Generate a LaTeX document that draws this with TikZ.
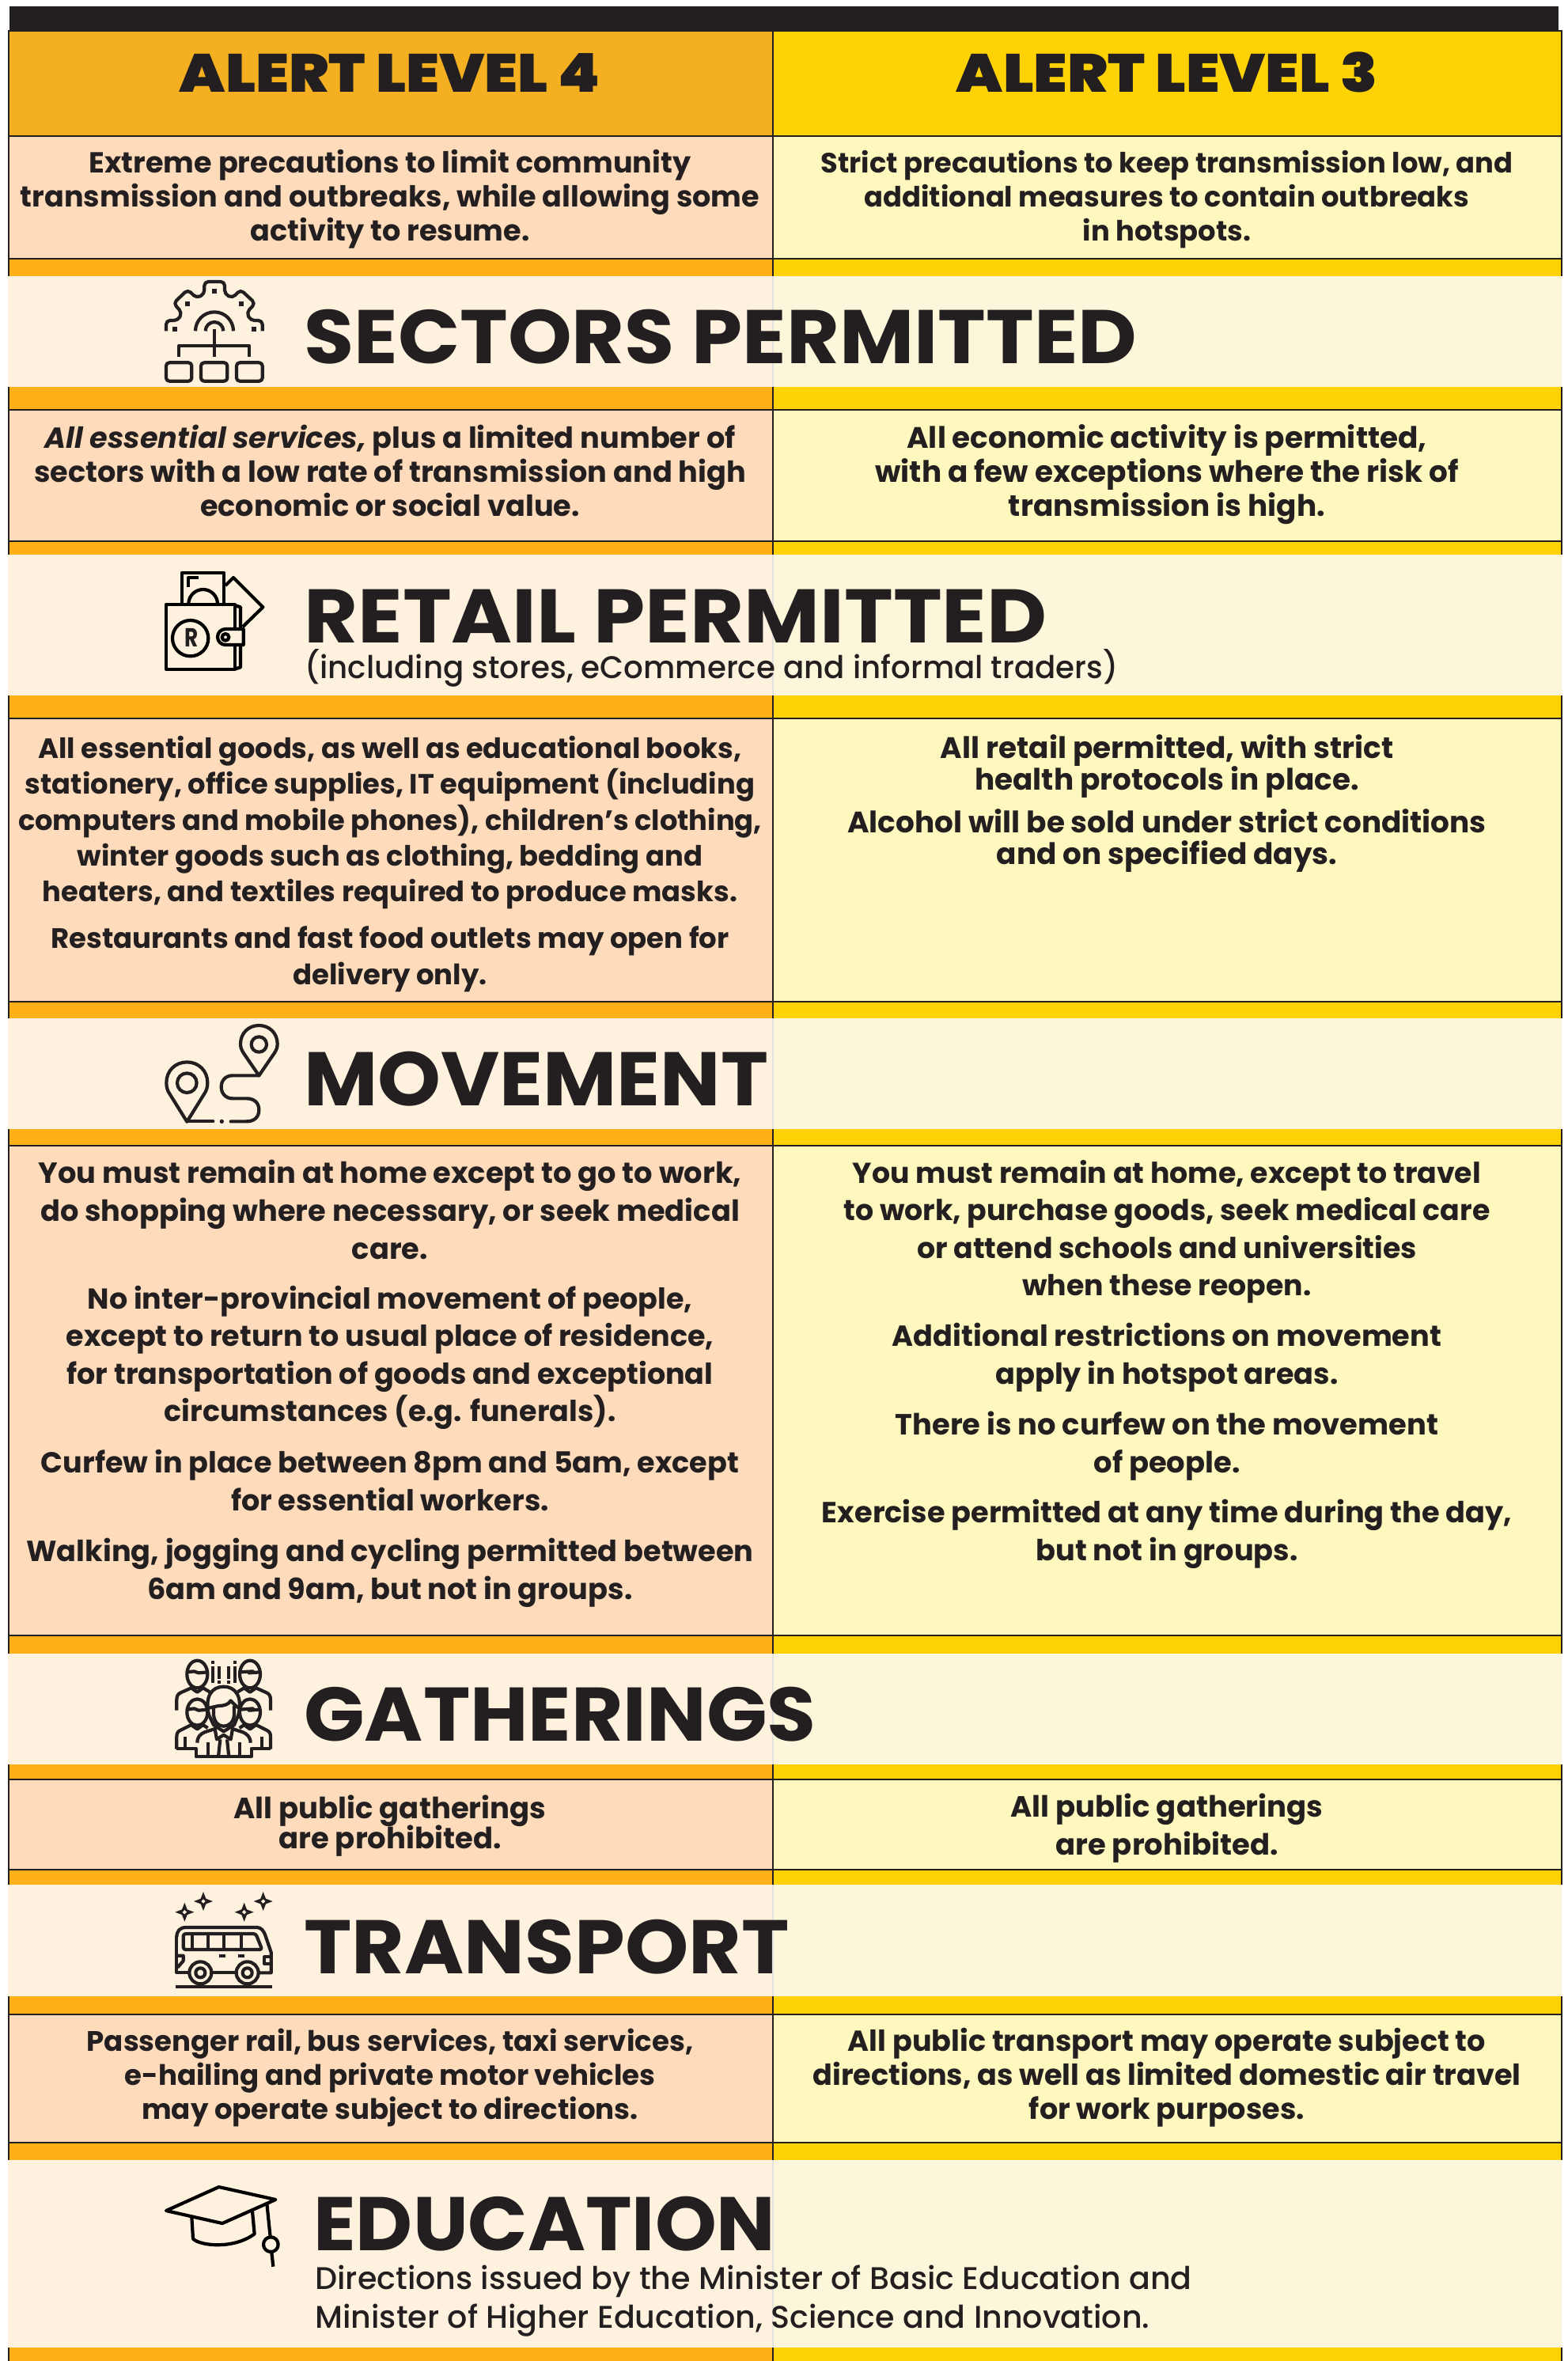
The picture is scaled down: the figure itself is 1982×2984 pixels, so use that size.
\documentclass[tikz,border=0pt]{standalone}
\usepackage{fontspec}
\usepackage{graphicx}
\setmainfont{Poppins}
\newfontfamily\bodyfont{Poppins Bold}
\newfontfamily\bodyital{Poppins Bold Italic}
\newfontfamily\headfont{Poppins Black}
\newfontfamily\sectfont{Poppins Bold}
\newfontfamily\subfont{Poppins Medium}
\lineskiplimit=-100pt
\normallineskiplimit=-100pt
\definecolor{ink}{HTML}{231F20}
\definecolor{headL}{HTML}{F4B021}
\definecolor{headR}{HTML}{FFD204}
\definecolor{cellL}{HTML}{FEDCBB}
\definecolor{cellR}{HTML}{FEF8BE}
\definecolor{barL}{HTML}{FDB018}
\definecolor{bandL}{HTML}{FEF2DF}
\definecolor{bandR}{HTML}{FCF6DA}
\definecolor{bandDiv}{HTML}{E4E2DC}
\def\bodysize{18}
\tikzset{
  fs/.store in=\bodysize,
  bodytxt/.style={font=\bodyfont\fontsize{\bodysize}{#1}\selectfont,text=ink,align=center,inner sep=0pt,anchor=center},
  headtxt/.style={font=\headfont\fontsize{34}{40}\selectfont,text=ink,inner sep=0pt,anchor=base},
  secttxt/.style={font=\sectfont\fontsize{48}{54}\selectfont,text=ink,inner sep=0pt,anchor=base west},
  subtxt/.style={font=\subfont\fontsize{19.8}{#1}\selectfont,text=ink,inner sep=0pt,align=left},
  rulek/.style={ink,line width=1.4pt},
  iconline/.style={draw=ink,line width=2.1pt,line join=round},
  iconk/.style={draw=black,line width=2.1pt,line join=round},
}
\newcommand{\fitw}[2]{\resizebox{#1pt}{\height}{#2}}
\begin{document}
\begin{tikzpicture}[x=0.5pt,y=-0.5pt]
\useasboundingbox (0,0) rectangle (1982,2984);
\fill[white] (0,0) rectangle (1982,2984);
% black top bar
\fill[ink] (12,8) rectangle (1970,39);
% header
\fill[headL] (11,39) rectangle (977,172);
\fill[headR] (977,39) rectangle (1974,172);
% cells
\foreach \a/\b in {172/327,518/684,908/1266,1448/2067,2249/2363,2546/2708}{
  \fill[cellL] (11,\a) rectangle (977,\b);
  \fill[cellR] (977,\a) rectangle (1974,\b);
}
% coloured bars
\foreach \a/\b in {327/349,489/518,684/701,879/908,1266/1287,1427/1448,2067/2090,2230/2249,2363/2382,2523/2546,2708/2730,2967/2984}{
  \fill[barL] (11,\a) rectangle (977,\b);
  \fill[headR] (977,\a) rectangle (1974,\b);
}
% bands
\foreach \a/\b in {349/489,701/879,1287/1427,2090/2230,2382/2523,2730/2967}{
  \fill[bandL] (10,\a) rectangle (977,\b);
  \fill[bandR] (977,\a) rectangle (1974,\b);
  \draw[bandDiv,line width=1.2pt] (977,\a) -- (977,\b);
}
% vertical rules
\foreach \a/\b in {39/349,489/701,879/1287,1427/2090,2230/2382,2523/2730,2967/2984}{
  \draw[rulek] (11,\a) -- (11,\b);
  \draw[rulek] (977,\a) -- (977,\b);
  \draw[rulek] (1974,\a) -- (1974,\b);
}
% horizontal rules
\foreach \y in {39,172,327,518,684,908,1266,1448,2067,2249,2363,2546,2708}{
  \draw[rulek] (10,\y) -- (1975,\y);
}
% headers
\node[headtxt] (hl) at (493,116) {\fitw{266}{ALERT LEVEL 4}};
\node[headtxt] (hr) at (1475,116) {\fitw{266}{ALERT LEVEL 3}};
% row 1
\node[fs=18.3,bodytxt=21.42pt] (r1l) at (493,253) {\strut Extreme precautions to limit community\\transmission and outbreaks, while allowing some\\activity to resume.\strut};
\node[fs=17.65,bodytxt=21.42pt] (r1r) at (1475,253) {\strut Strict precautions to keep transmission low, and\\additional measures to contain outbreaks\\in hotspots.\strut};
% sectors
\node[secttxt] (s1) at (384,459) {\fitw{526.5}{SECTORS PERMITTED}};
\node[fs=18.35,bodytxt=21.42pt] (r2l) at (493,601) {\strut{\bodyital All essential services,} plus a limited number of\\sectors with a low rate of transmission and high\\economic or social value.\strut};
\node[fs=18.7,bodytxt=21.42pt] (r2r) at (1475,601) {\strut All economic activity is permitted,\\with a few exceptions where the risk of\\transmission is high.\strut};
% retail
\node[secttxt] (s2) at (384,812) {\fitw{469.5}{RETAIL PERMITTED}};
\node[subtxt=24pt,anchor=base west] (s2b) at (385,857) {\fitw{514}{(including stores, eCommerce and informal traders)}};
\node[fs=17.65,bodytxt=22.7pt] (r3la) at (493,1040) {\strut All essential goods, as well as educational books,\\stationery, office supplies, IT equipment (including\\computers and mobile phones), children’s clothing,\\winter goods such as clothing, bedding and\\heaters, and textiles required to produce masks.\strut};
\node[fs=17.75,bodytxt=23.3pt] (r3lb) at (493,1212) {\strut Restaurants and fast food outlets may open for\\delivery only.\strut};
\node[fs=18.7,bodytxt=20pt] (r3ra) at (1475,970) {\strut All retail permitted, with strict\\health protocols in place.\strut};
\node[fs=18.7,bodytxt=20pt] (r3rb) at (1475,1064) {\strut Alcohol will be sold under strict conditions\\and on specified days.\strut};
% movement
\node[secttxt] (s3) at (384,1397) {\fitw{293.5}{MOVEMENT}};
\node[fs=18.4,bodytxt=23.8pt] (r4la) at (493,1534) {\strut You must remain at home except to go to work,\\do shopping where necessary, or seek medical\\care.\strut};
\node[fs=18.25,bodytxt=23.8pt] (r4lb) at (493,1716) {\strut No inter-provincial movement of people,\\except to return to usual place of residence,\\for transportation of goods and exceptional\\circumstances (e.g. funerals).\strut};
\node[fs=18.3,bodytxt=23.8pt] (r4lc) at (493,1876) {\strut Curfew in place between 8pm and 5am, except\\for essential workers.\strut};
\node[fs=18.35,bodytxt=23.8pt] (r4ld) at (493,1988) {\strut Walking, jogging and cycling permitted between\\6am and 9am, but not in groups.\strut};
\node[fs=18.15,bodytxt=23.8pt] (r4ra) at (1475,1557) {\strut You must remain at home, except to travel\\to work, purchase goods, seek medical care\\or attend schools and universities\\when these reopen.\strut};
\node[fs=18.35,bodytxt=23.8pt] (r4rb) at (1475,1716) {\strut Additional restrictions on movement\\apply in hotspot areas.\strut};
\node[fs=18.45,bodytxt=23.8pt] (r4rc) at (1475,1828) {\strut There is no curfew on the movement\\of people.\strut};
\node[fs=18.35,bodytxt=23.8pt] (r4rd) at (1475,1939) {\strut Exercise permitted at any time during the day,\\but not in groups.\strut};
% gatherings
\node[secttxt] (s4) at (384,2200) {\fitw{323.5}{GATHERINGS}};
\node[fs=18.5,bodytxt=19pt] (r5l) at (493,2308) {\strut All public gatherings\\are prohibited.\strut};
\node[fs=18.5,bodytxt=23.8pt] (r5r) at (1475,2311) {\strut All public gatherings\\are prohibited.\strut};
% transport
\node[secttxt] (s5) at (384,2494) {\fitw{306.5}{TRANSPORT}};
\node[fs=17.8,bodytxt=21.42pt] (r6l) at (493,2627) {\strut Passenger rail, bus services, taxi services,\\e-hailing and private motor vehicles\\may operate subject to directions.\strut};
\node[fs=18.3,bodytxt=21.42pt] (r6r) at (1475,2627) {\strut All public transport may operate subject to\\directions, as well as limited domestic air travel\\for work purposes.\strut};
% education
\node[secttxt] (s6) at (396,2844) {\fitw{292}{EDUCATION}};
\node[subtxt=24.8pt,anchor=north west] (s6b) at (398,2862) {Directions issued by the Minister of Basic Education and\\Minister of Higher Education, Science and Innovation.};

% ---- gear icon
\begin{scope}[shift={(180,330)},x=0.16667pt,y=-0.16667pt]
\draw[iconline,rounded corners=2.5pt] (90,265) -- (90,225) -- (135,225) -- (150,195) -- (118,160) -- (172,108) -- (205,140) -- (235,125) -- (235,78) -- (312,78) -- (312,125) -- (342,140) -- (372,108) -- (428,160) -- (395,195) -- (410,225) -- (455,225) -- (455,265);
\foreach \p/\q in {123/258,170/162,273/113,375/162,423/258}{\fill[ink] (\p-9,\q-9) rectangle (\p+9,\q+9);}
\draw[iconline] (201,265) arc[start angle=180,end angle=360,radius=72];
\draw[iconline] (239,265) arc[start angle=180,end angle=360,radius=34];
\draw[iconline] (273,258) -- (273,362);
\draw[iconline] (138,362) -- (138,322) -- (406,322) -- (406,362);
\draw[iconline,rounded corners=2pt] (90,385) rectangle (187,455);
\draw[iconline,rounded corners=2pt] (222,385) rectangle (322,455);
\draw[iconline,rounded corners=2pt] (357,385) rectangle (455,455);
\end{scope}
% ---- wallet icon
\begin{scope}[shift={(150,680)},x=0.16667pt,y=-0.16667pt]
\draw[iconk] (240,250) -- (240,132) -- (400,132) -- (400,250);
\draw[iconk] (265,187) -- (265,150) -- (302,150);
\draw[iconk] (265,250) arc[start angle=180,end angle=360,radius=55];
\draw[iconk] (405,180) -- (435,150) -- (547,262) -- (470,337);
\draw[iconk] (180,252) rectangle (440,497);
\draw[iconk] (440,255) -- (462,262) -- (462,345);
\draw[iconk] (462,405) -- (462,490) -- (440,497);
\draw[iconk,fill=bandL] (473,345) -- (405,345) arc[start angle=270,end angle=90,radius=30] -- (473,405) -- cycle;
\draw[iconk] (405,376) circle[radius=13];
\draw[iconk] (272,380) circle[radius=68];
\node[font=\sectfont\fontsize{16.5}{18}\selectfont,text=ink,inner sep=0pt] (walletr) at (277,377) {\scalebox{0.8}[1]{R}};
\end{scope}
% ---- movement icon
\begin{scope}[shift={(170,1270)},x=0.16667pt,y=-0.16667pt]
\draw[iconline] (199,443) -- (135,340) .. controls (124,325) and (121,310) .. (121,295) .. controls (121,250) and (155,217) .. (199,217) .. controls (243,217) and (277,250) .. (277,295) .. controls (277,310) and (274,325) .. (263,340) -- cycle;
\draw[iconline] (199,296) circle[radius=37];
\draw[iconline] (472,268) -- (415,185) .. controls (405,170) and (402,160) .. (402,148) .. controls (402,108) and (432,78) .. (472,78) .. controls (512,78) and (542,108) .. (542,148) .. controls (542,160) and (539,170) .. (529,185) -- cycle;
\draw[iconline] (472,150) circle[radius=29];
\draw[iconline,line cap=round] (199,442) -- (298,442);
\fill[ink] (331,442) circle[radius=8];
\draw[iconline,line cap=round] (365,442) -- (425,442) .. controls (455,442) and (472,425) .. (472,398) .. controls (472,372) and (455,355) .. (425,355) -- (372,355) .. controls (345,355) and (329,335) .. (329,311) .. controls (329,287) and (345,268) .. (372,268) -- (472,268);
\end{scope}
% ---- gatherings icon
\begin{scope}[shift={(190,2080)},x=0.16667pt,y=-0.16667pt]
\foreach \c/\s in {178/1,378/-1}{
  \draw[iconline] (\c,108) ellipse[x radius=39,y radius=52];
  \draw[iconline] (\c-39,100) -- (\c-12*\s,97) -- (\c+5*\s,103) -- (\c+39,100);
}
\draw[iconline] (100,245) -- (100,205) .. controls (100,190) and (105,183) .. (115,178) -- (155,160) -- (178,176) -- (200,160) -- (225,175);
\draw[iconline] (456,245) -- (456,205) .. controls (456,190) and (451,183) .. (441,178) -- (401,160) -- (378,176) -- (356,160) -- (331,175);
\fill[ink] (231,58) rectangle (243,70); \fill[ink] (231,78) rectangle (243,140);
\fill[ink] (256,78) rectangle (268,125); \fill[ink] (256,131) rectangle (268,143);
\fill[ink] (291,78) rectangle (303,125); \fill[ink] (291,131) rectangle (303,143);
\fill[ink] (316,58) rectangle (328,70); \fill[ink] (316,78) rectangle (328,140);
\foreach \c/\s in {178/1,378/-1}{
  \draw[iconline] (\c,252) ellipse[x radius=39,y radius=50];
  \draw[iconline] (\c-39,242) -- (\c-12*\s,238) -- (\c+5*\s,245) -- (\c+39,242);
}
\draw[iconline] (100,392) -- (100,345) .. controls (100,330) and (105,325) .. (115,320) -- (155,300) -- (178,316) -- (200,300) -- (218,312);
\draw[iconline] (456,392) -- (456,345) .. controls (456,330) and (451,325) .. (441,320) -- (401,300) -- (378,316) -- (356,300) -- (338,312);
\draw[iconline] (132,345) -- (132,390);
\draw[iconline] (424,345) -- (424,390);
\draw[iconline] (100,390) -- (173,390) -- (173,421) -- (383,421) -- (383,390) -- (456,390);
\draw[iconline,fill=bandL] (222,262) .. controls (205,190) and (235,155) .. (278,155) .. controls (321,155) and (351,190) .. (334,262) -- (318,300) -- (278,325) -- (240,300) -- cycle;
\draw[iconline] (222,236) -- (258,228) .. controls (280,228) and (298,222) .. (305,208) .. controls (315,220) and (325,228) .. (335,236);
\draw[iconline] (240,230) -- (240,262) .. controls (243,290) and (258,305) .. (278,305) .. controls (298,305) and (316,290) .. (318,262) -- (318,228);
\draw[iconline,fill=bandL] (178,368) .. controls (178,345) and (190,335) .. (205,328) -- (245,315) -- (252,355) -- (278,338) -- (305,355) -- (312,315) -- (352,328) .. controls (366,335) and (380,345) .. (380,368);
\draw[iconline] (265,355) -- (258,421);
\draw[iconline] (291,355) -- (298,421);
\draw[iconline] (218,365) -- (218,421);
\draw[iconline] (338,365) -- (338,421);
\end{scope}
% ---- bus icon
\begin{scope}[shift={(190,2370)},x=0.16667pt,y=-0.16667pt]
\foreach \p/\q in {130/140,201/99,356/140,428/99}{
  \fill[ink] (\p,\q-36) -- (\p+10,\q-10) -- (\p+36,\q) -- (\p+10,\q+10) -- (\p,\q+36) -- (\p-10,\q+10) -- (\p-36,\q) -- (\p-10,\q-10) -- cycle;
  \fill[bandL] (\p,\q-8) -- (\p+8,\q) -- (\p,\q+8) -- (\p-8,\q) -- cycle;
}
\draw[iconline] (145,370) -- (100,370) -- (100,232);
\draw[iconline] (100,235) .. controls (100,212) and (112,198) .. (135,198) -- (405,198) .. controls (420,198) and (430,212) .. (435,225) -- (458,292) -- (458,370) -- (412,370);
\draw[iconline] (235,370) -- (322,370);
\draw[iconline,rounded corners=1.5pt] (125,222) -- (400,222) -- (424,282) -- (125,282) -- cycle;
\foreach \p in {158,218,280,345}{\draw[iconline] (\p,222) -- (\p,282);}
\fill[ink] (262,300) rectangle (285,312);
\fill[ink] (333,300) rectangle (357,312);
\draw[iconline] (100,305) -- (125,305) -- (125,325) -- (103,350);
\draw[iconline] (458,310) -- (433,310) -- (433,337) -- (458,337);
\foreach \p in {190,368}{
  \draw[iconline] (\p,370) circle[radius=42];
  \draw[iconline] (\p,370) circle[radius=18];
}
\fill[ink] (95,417) rectangle (463,428);
\end{scope}
% ---- cap icon
\begin{scope}[shift={(180,2730)},x=0.16667pt,y=-0.16667pt]
\draw[iconk] (90,192) -- (290,102) -- (505,150) -- (303,240) -- cycle;
\draw[iconk] (187,215) -- (192,298) .. controls (215,325) and (345,340) .. (425,280) -- (417,195);
\draw[iconk] (472,165) -- (485,292);
\draw[iconk] (487,320) circle[radius=28];
\draw[iconk] (490,350) -- (496,404);
\end{scope}
\end{tikzpicture}
\end{document}
